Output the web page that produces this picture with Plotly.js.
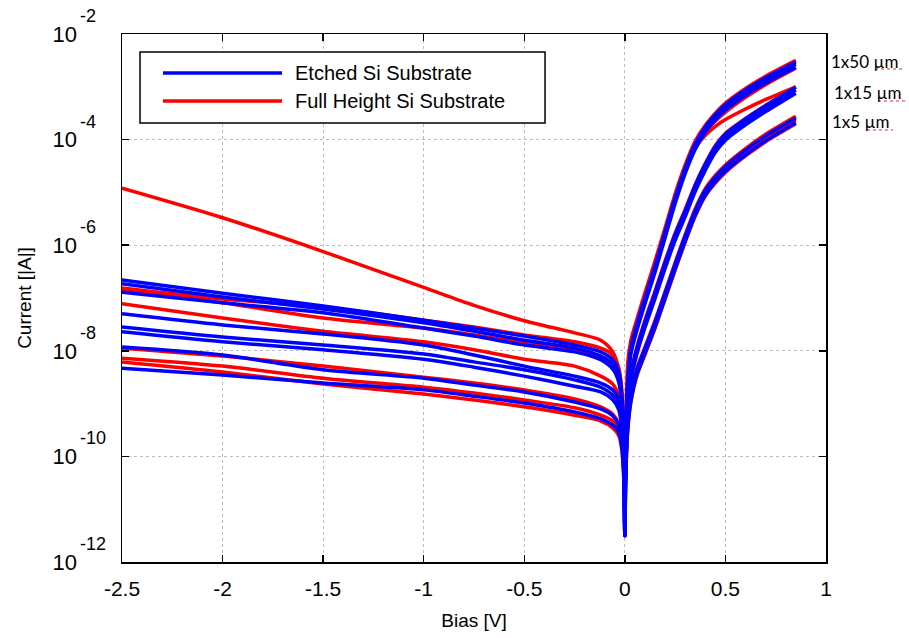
<!DOCTYPE html>
<html><head><meta charset="utf-8">
<script src="https://cdn.plot.ly/plotly-3.0.1.min.js"></script>
<style>html,body{margin:0;padding:0;background:#fff}#chart{width:909px;height:638px}</style>
</head><body><div id="chart"></div>
<script>
// Bias grid [V]
var bias = [-2.5,-2,-1.5,-1,-0.75,-0.5,-0.25,-0.12,-0.06,-0.03,-0.015,-0.005,0,
            0.005,0.015,0.03,0.06,0.1,0.15,0.2,0.25,0.3,0.35,0.4,0.45,0.5,0.6,0.7,0.85];

// log10 of |I| [A] — Etched Si Substrate (blue)
var etched1 = [-6.66,-6.91,-7.15,-7.42,-7.57,-7.72,-7.89,-8.02,-8.17,-8.40,-8.84,-9.69,-11.3, -9.55,-8.55,-7.95,-7.5,-7.0,-6.4,-5.75,-5.1,-4.54,-4.08,-3.76,-3.53,-3.34,-3.06,-2.83,-2.53];
var etched2 = [-6.73,-6.98,-7.21,-7.47,-7.63,-7.80,-7.95,-8.10,-8.26,-8.50,-8.95,-9.80,-11.4, -9.6,-8.6,-8.0,-7.55,-7.05,-6.45,-5.8,-5.15,-4.58,-4.12,-3.8,-3.57,-3.38,-3.1,-2.87,-2.57];
var etched3 = [-6.89,-7.09,-7.28,-7.57,-7.72,-7.89,-8.02,-8.17,-8.35,-8.60,-9.05,-9.90,-11.5, -9.66,-8.66,-8.06,-7.61,-7.11,-6.51,-5.86,-5.21,-4.64,-4.18,-3.86,-3.63,-3.44,-3.16,-2.93,-2.63];
var etched4 = [-7.30,-7.51,-7.68,-7.89,-8.08,-8.29,-8.48,-8.61,-8.74,-8.93,-9.31,-9.97,-11.5, -9.85,-8.95,-8.45,-7.95,-7.45,-6.9,-6.33,-5.8,-5.35,-4.87,-4.47,-4.13,-3.9,-3.61,-3.36,-3.01];
var etched5 = [-7.55,-7.74,-7.89,-8.06,-8.21,-8.36,-8.55,-8.69,-8.84,-9.03,-9.41,-10.07,-11.5, -9.9,-9.0,-8.5,-8.0,-7.5,-6.95,-6.38,-5.85,-5.4,-4.92,-4.52,-4.18,-3.95,-3.66,-3.41,-3.06];
var etched6 = [-7.64,-7.83,-7.98,-8.16,-8.31,-8.48,-8.67,-8.78,-8.93,-9.12,-9.50,-10.16,-11.5, -9.96,-9.06,-8.56,-8.06,-7.56,-7.01,-6.44,-5.91,-5.46,-4.98,-4.58,-4.24,-4.01,-3.72,-3.47,-3.12];
var etched7 = [-7.93,-8.08,-8.36,-8.52,-8.65,-8.78,-8.97,-9.10,-9.23,-9.41,-9.69,-10.26,-11.5, -10.15,-9.35,-8.85,-8.36,-7.96,-7.46,-6.91,-6.36,-5.83,-5.34,-4.96,-4.71,-4.51,-4.2,-3.93,-3.59];
var etched8 = [-8.33,-8.46,-8.61,-8.74,-8.86,-8.99,-9.16,-9.29,-9.41,-9.54,-9.82,-10.35,-11.5, -10.25,-9.45,-8.95,-8.45,-8.05,-7.55,-7.0,-6.45,-5.92,-5.43,-5.05,-4.8,-4.6,-4.29,-4.02,-3.68];

// log10 of |I| [A] — Full Height Si Substrate (red)
var full1 = [-4.92,-5.48,-6.12,-6.80,-7.14,-7.43,-7.66,-7.80,-8.02,-8.36,-8.90,-9.60,-10.4, -9.3,-8.2,-7.8,-7.4,-6.9,-6.3,-5.67,-5.03,-4.48,-4.03,-3.73,-3.5,-3.31,-3.03,-2.8,-2.5];
var full2 = [-6.81,-7.02,-7.17,-7.42,-7.55,-7.70,-7.83,-7.95,-8.08,-8.33,-8.74,-9.50,-10.4, -9.5,-8.5,-7.92,-7.48,-6.98,-6.38,-5.75,-5.11,-4.56,-4.14,-3.86,-3.65,-3.48,-3.2,-2.96,-2.65];
var full3 = [-6.85,-7.09,-7.38,-7.57,-7.70,-7.85,-7.98,-8.11,-8.25,-8.46,-8.90,-9.69,-10.5, -9.55,-8.55,-7.97,-7.52,-7.02,-6.42,-5.78,-5.14,-4.6,-4.16,-3.92,-3.75,-3.62,-3.42,-3.24,-3.0];
var full4 = [-7.11,-7.38,-7.63,-7.83,-7.98,-8.16,-8.29,-8.48,-8.63,-8.86,-9.22,-9.88,-10.5, -9.82,-8.92,-8.42,-7.92,-7.42,-6.87,-6.3,-5.77,-5.32,-4.85,-4.45,-4.11,-3.88,-3.6,-3.35,-3.0];
var full5 = [-7.95,-8.10,-8.29,-8.50,-8.61,-8.74,-8.91,-9.06,-9.20,-9.39,-9.69,-10.26,-10.6, -10.12,-9.32,-8.82,-8.33,-7.93,-7.43,-6.88,-6.33,-5.8,-5.31,-4.93,-4.68,-4.48,-4.17,-3.9,-3.56];
var full6 = [-8.14,-8.29,-8.52,-8.69,-8.80,-8.93,-9.08,-9.22,-9.33,-9.50,-9.78,-10.35,-10.7, -10.2,-9.4,-8.9,-8.4,-8.0,-7.5,-6.95,-6.4,-5.87,-5.38,-5.0,-4.75,-4.55,-4.24,-3.97,-3.63];
var full7 = [-8.21,-8.40,-8.63,-8.82,-8.93,-9.06,-9.22,-9.33,-9.46,-9.61,-9.88,-10.45,-10.7, -10.27,-9.47,-8.97,-8.47,-8.07,-7.57,-7.02,-6.47,-5.94,-5.45,-5.07,-4.82,-4.62,-4.31,-4.04,-3.7];

var seriesNames = ['Etched Si Substrate', 'Full Height Si Substrate'];
var deviceLabels = ['1x50 \u00b5m', '1x15 \u00b5m', '1x5 \u00b5m'];
var xTickVals = [-2.5,-2,-1.5,-1,-0.5,0,0.5,1];
var xTickText = ['-2.5','-2','-1.5','-1','-0.5','0','0.5','1'];
var yTickExp = [-12,-10,-8,-6,-4,-2];

var BLUE = '#0000ff', RED = '#ff0000';
var etched = [etched1,etched2,etched3,etched4,etched5,etched6,etched7,etched8];
var full = [full1,full2,full3,full4,full5,full6,full7];

function toAmps(arr){ return arr.map(function(v){ return Math.pow(10, v); }); }

var traces = [];
full.forEach(function(c){
  traces.push({x: bias, y: toAmps(c), type:'scatter', mode:'lines', name: seriesNames[1],
    line:{color:RED, width:3.5, shape:'spline', smoothing:0.8}, showlegend:false, hoverinfo:'skip'});
});
etched.forEach(function(c){
  traces.push({x: bias, y: toAmps(c), type:'scatter', mode:'lines', name: seriesNames[0],
    line:{color:BLUE, width:3.5, shape:'spline', smoothing:0.8}, showlegend:false, hoverinfo:'skip'});
});

var yTickVals = yTickExp.map(function(e){ return Math.pow(10, e); });
var yTickText = yTickExp.map(function(){ return '10'; });

var FONT = 'Arial, "Liberation Sans", sans-serif';
var LABELFONT = 'Lato, "Open Sans", sans-serif';

var annotations = [
  {xref:'paper', yref:'paper', x:0.2429, y:0.9261, xanchor:'left', yanchor:'middle', showarrow:false,
   text:seriesNames[0], font:{size:20, family:FONT}},
  {xref:'paper', yref:'paper', x:0.2429, y:0.8731, xanchor:'left', yanchor:'middle', showarrow:false,
   text:seriesNames[1], font:{size:20, family:FONT}},
  {xref:'paper', yref:'paper', x:(829-122)/704, y:(562-61)/528, xanchor:'left', yanchor:'middle', showarrow:false,
   text:deviceLabels[0], font:{size:17, family:LABELFONT}},
  {xref:'paper', yref:'paper', x:(832-122)/704, y:(562-93)/528, xanchor:'left', yanchor:'middle', showarrow:false,
   text:deviceLabels[1], font:{size:17, family:LABELFONT}},
  {xref:'paper', yref:'paper', x:(830-122)/704, y:(562-122)/528, xanchor:'left', yanchor:'middle', showarrow:false,
   text:deviceLabels[2], font:{size:17, family:LABELFONT}}
];
// exponents of the y tick labels (10^e), raised like the original
yTickExp.forEach(function(e){
  annotations.push({xref:'paper', yref:'y', x:(78-122)/704, y:e, xanchor:'left', yanchor:'middle',
    yshift:18, showarrow:false, text:String(e), font:{size:18, family:FONT}});
});

var layout = {
  width: 909, height: 638,
  margin: {l:122, r:83, t:34, b:76, pad:0},
  paper_bgcolor:'#ffffff', plot_bgcolor:'#ffffff',
  font: {family: FONT, color:'#000', size:20},
  showlegend: false,
  xaxis: {
    range:[-2.5, 1], tickmode:'array', tickvals:xTickVals, ticktext:xTickText,
    ticks:'inside', ticklen:7, tickwidth:1.5, tickcolor:'#000',
    showline:true, linecolor:'#000', linewidth:1.5, mirror:'allticks',
    showgrid:true, gridcolor:'#bdbdbd', griddash:'dot', gridwidth:1, zeroline:false,
    tickfont:{size:21}, ticklabelstandoff:7,
    title:{text:'Bias [V]', font:{size:19}, standoff:15}
  },
  yaxis: {
    type:'log', range:[-12, -2], tickmode:'array', tickvals:yTickVals, ticktext:yTickText,
    ticks:'inside', ticklen:7, tickwidth:1.5, tickcolor:'#000',
    showline:true, linecolor:'#000', linewidth:1.5, mirror:'allticks',
    showgrid:true, gridcolor:'#bdbdbd', griddash:'dot', gridwidth:1, zeroline:false,
    tickfont:{size:22}, ticklabelstandoff:39,
    title:{text:'Current [|A|]', font:{size:19}, standoff:16}
  },
  shapes: [
    {type:'rect', xref:'paper', yref:'paper', x0:0.0256, x1:0.6009, y0:0.8314, y1:0.9659,
     line:{color:'#000', width:1.5}, fillcolor:'#ffffff', layer:'above'},
    {type:'line', xref:'paper', yref:'paper', x0:0.0582, x1:0.2273, y0:0.9261, y1:0.9261,
     line:{color:BLUE, width:3.5}, layer:'above'},
    {type:'line', xref:'paper', yref:'paper', x0:0.0582, x1:0.2273, y0:0.8731, y1:0.8731,
     line:{color:RED, width:3.5}, layer:'above'},
    {type:'line', xref:'paper', yref:'paper', x0:(875-122)/704, x1:(903-122)/704, y0:(562-69)/528, y1:(562-69)/528,
     line:{color:'#e03030', width:1, dash:'dot'}},
    {type:'line', xref:'paper', yref:'paper', x0:(878-122)/704, x1:(905-122)/704, y0:(562-101)/528, y1:(562-101)/528,
     line:{color:'#e03030', width:1, dash:'dot'}},
    {type:'line', xref:'paper', yref:'paper', x0:(867-122)/704, x1:(893-122)/704, y0:(562-130)/528, y1:(562-130)/528,
     line:{color:'#e03030', width:1, dash:'dot'}}
  ],
  annotations: annotations
};

Plotly.newPlot('chart', traces, layout, {displayModeBar:false, staticPlot:true});
</script>
</body></html>
